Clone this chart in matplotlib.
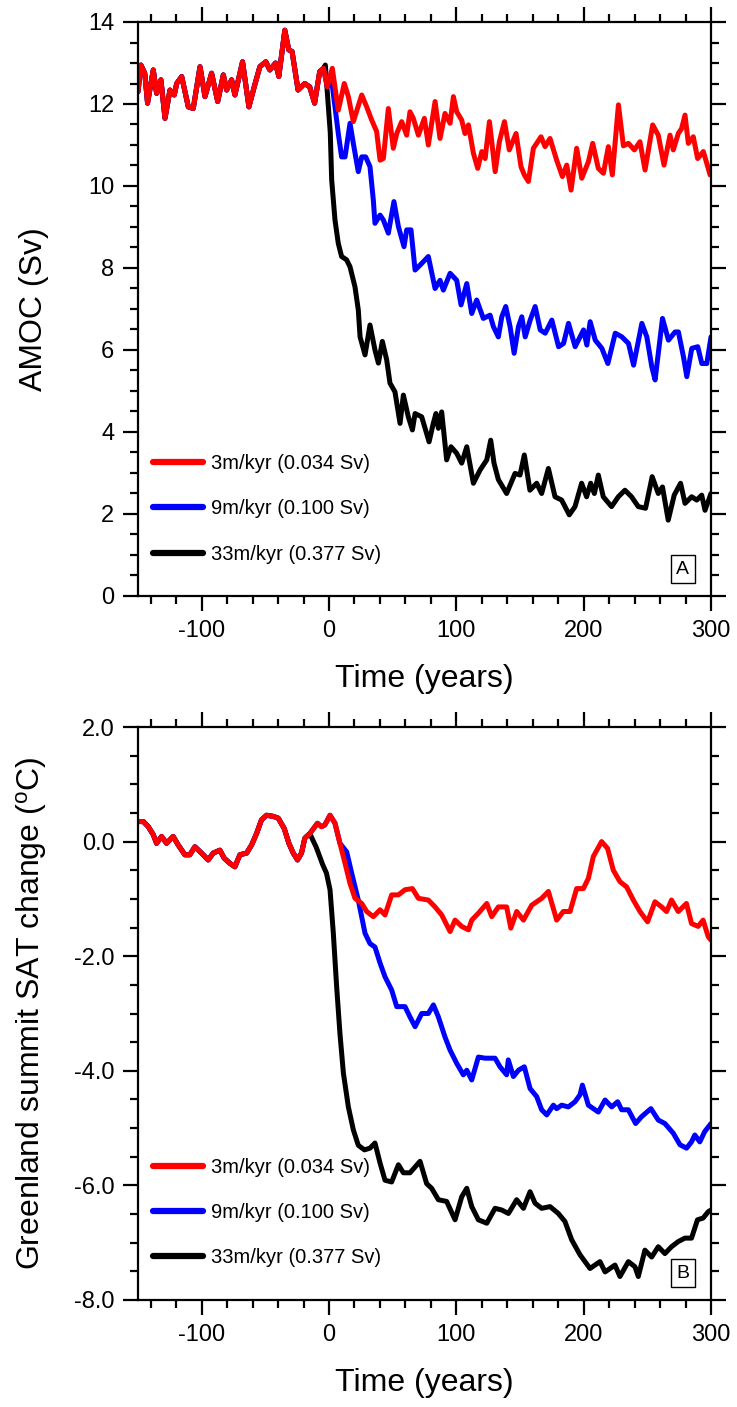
import numpy as np
import matplotlib
matplotlib.use("Agg")
import matplotlib.pyplot as plt
from matplotlib.ticker import MultipleLocator, FormatStrFormatter

plt.rcParams['font.family'] = ['Liberation Sans', 'DejaVu Sans']
plt.rcParams['axes.unicode_minus'] = False

# ---------------- Panel A: AMOC (Sv) ----------------
# shared spin-up segment (all three runs identical before t=0)
time_pre_a = [-150, -147.7, -144.7, -142.5, -138, -135.4, -132, -128.8, -124.9, -121.5,
              -119.6, -115.7, -110.5, -106.6, -101.3, -97.4, -92.2, -87.4, -83, -80.4,
              -76.5, -73.9, -67.9, -62.9, -58.7, -54.3, -49.6, -46.5, -42, -39.4,
              -34.7, -31.6, -29, -24.3, -19.1, -15.2, -11.3, -7.3, -4.3]
amoc_pre = [12.3, 12.95, 12.75, 12.02, 12.83, 12.26, 12.59, 11.65, 12.34, 12.22,
            12.5, 12.67, 11.93, 11.89, 12.91, 12.18, 12.75, 12.06, 12.71, 12.34,
            12.59, 12.22, 13.03, 11.93, 12.42, 12.91, 13.03, 12.83, 13.0, 12.67,
            13.8, 13.32, 13.28, 12.34, 12.5, 12.42, 12.02, 12.79, 12.87]

time_red_a = [-1.4, 2.6, 7.3, 12, 15.2, 19.1, 25.7, 29.6, 33.5, 37.4, 40.1, 42.7, 46.6, 50.5,
              53.2, 57.1, 61, 63.6, 66.2, 70.2, 74.9, 78, 83.3, 87.2, 91.1, 95.1, 97.7,
              100.3, 104.2, 106.8, 109.5, 113.4, 116.8, 120, 122.6, 126, 130.5, 133.8,
              137.8, 141.6, 146.9, 150.8, 153.4, 156.6, 160.5, 166.5, 169.7, 173.6, 178.8,
              183.3, 186.7, 190.1, 194.5, 198.5, 203.7, 207.1, 211.5, 215.5, 219.4, 222.5,
              227.3, 231.2, 235.1, 239.8, 244.2, 248.2, 254.2, 258.6, 263.1, 267.8, 270.4,
              274.3, 276.9, 279.6, 282.2, 286.1, 289.5, 294, 299.3, 300]
amoc_red = [12.42, 12.87, 11.85, 12.5, 12.18, 11.57, 12.22, 11.93, 11.61, 11.33, 10.63, 10.67,
            11.89, 10.92, 11.28, 11.57, 11.24, 11.81, 11.65, 11.24, 11.65, 11.0, 12.06, 11.16,
            11.77, 11.53, 12.18, 11.81, 11.61, 11.28, 11.49, 10.8, 10.43, 10.84, 10.67, 11.57,
            10.35, 11.08, 11.57, 10.88, 11.28, 10.47, 10.27, 10.11, 10.92, 11.2, 10.96, 11.16,
            10.63, 10.23, 10.51, 9.9, 10.92, 10.19, 10.59, 11.04, 10.43, 10.31, 10.96, 10.27,
            11.98, 10.98, 11.04, 10.88, 11.08, 10.39, 11.49, 11.24, 10.51, 11.24, 10.88,
            11.28, 11.4, 11.73, 11.04, 11.2, 10.67, 10.84, 10.27, 10.3]

time_blue_a = [-1.4, 2.0, 4.7, 7.3, 9.9, 12.6, 16.5, 19.1, 23, 25.7, 28.8, 32.2, 34.8, 36.1,
               40.1, 42.7, 46.6, 51, 54.5, 58.9, 61, 64.4, 67.6, 71.5, 78, 83.3, 87.2, 89.8,
               95.1, 100.3, 103.7, 108.2, 112.1, 116, 121.2, 126.5, 129.1, 133, 135.7, 138.8,
               142.2, 145.4, 148.8, 151.4, 154.1, 158, 161.9, 165.9, 169.8, 175, 180.3, 184.2,
               188.1, 193.3, 199.9, 202.5, 205.1, 209.1, 214.3, 219, 224.8, 230, 235.2, 239.2,
               245.7, 249.6, 253.5, 256.1, 261.9, 266.6, 271.8, 274.4, 278.4, 281, 284.9,
               289.6, 292.8, 296.7, 300]
amoc_blue = [12.42, 12.6, 11.93, 11.28, 10.71, 10.71, 11.53, 11.04, 10.35, 10.71, 10.71, 10.47,
             9.66, 9.09, 9.29, 9.17, 8.85, 9.62, 9.01, 8.52, 8.93, 8.93, 7.95, 8.07, 8.28, 7.5,
             7.7, 7.46, 7.87, 7.7, 7.1, 7.62, 6.89, 7.22, 6.77, 6.85, 6.57, 6.32, 6.81, 7.06,
             6.57, 5.92, 6.57, 6.81, 6.32, 6.73, 7.06, 6.49, 6.41, 6.73, 6.08, 6.16, 6.65,
             6.08, 6.49, 6.12, 6.69, 6.24, 6.04, 5.67, 6.41, 6.32, 6.16, 5.63, 6.65, 6.32,
             5.59, 5.27, 6.77, 6.24, 6.44, 6.44, 5.83, 5.35, 6.04, 6.08, 5.67, 5.67, 6.32]

time_black_a = [-2.9, 1, 2.1, 4.7, 7.3, 9.9, 13.8, 16.5, 20.4, 23, 24.4, 28.3, 32.2, 36.1,
                38.8, 41.9, 45.3, 47.9, 51.8, 55.8, 58.4, 62.3, 65.5, 67.6, 72.8, 78.6, 81.9,
                84, 85.9, 88.5, 92.4, 95.8, 100.3, 104.2, 108.2, 113.4, 118.6, 123.9, 127,
                129.6, 133, 139.5, 146.1, 150, 153.4, 157.8, 163.1, 167, 172.3, 177.5, 182.7,
                188.7, 193.2, 198.4, 202.3, 205.5, 208.4, 211.5, 215.4, 221.9, 227.2, 232.4,
                237.6, 242.9, 248.6, 253.8, 258.6, 261.9, 266.4, 271.1, 276.1, 279.6, 284.8,
                288.8, 292.7, 295.3, 300]
amoc_black = [12.95, 11.3, 10.15, 9.17, 8.6, 8.28, 8.2, 8.03, 7.54, 6.98, 6.32, 5.88, 6.61,
              6.0, 5.68, 6.21, 5.76, 5.19, 4.98, 4.21, 4.9, 4.37, 4.05, 4.45, 4.37, 3.76, 4.21,
              4.45, 4.09, 4.49, 3.32, 3.64, 3.48, 3.24, 3.64, 2.75, 3.07, 3.32, 3.8, 3.24,
              2.84, 2.5, 2.99, 2.95, 3.44, 2.58, 2.75, 2.5, 3.11, 2.42, 2.34, 1.98, 2.18, 2.75,
              2.42, 2.75, 2.5, 2.95, 2.42, 2.18, 2.42, 2.58, 2.42, 2.18, 2.14, 2.91, 2.5, 2.66,
              1.85, 2.46, 2.75, 2.26, 2.42, 2.34, 2.46, 2.09, 2.5]

# ---------------- Panel B: Greenland summit SAT change ----------------
time_pre_b = [-150, -145.8, -141.9, -138, -135.4, -131.5, -127.6, -122.4, -118.4, -113.2,
              -109.3, -105.3, -100.1, -94.9, -90.9, -85.7, -82.3, -77.8, -73.9, -70,
              -64.7, -60.8, -56.9, -53, -49, -43.8, -39.9, -35.2, -31.5, -28.1, -24.7,
              -21.6, -19, -15.1]
sat_pre = [0.35, 0.35, 0.26, 0.12, -0.03, 0.09, -0.03, 0.09, -0.06, -0.23,
           -0.23, -0.09, -0.2, -0.32, -0.2, -0.15, -0.29, -0.38, -0.44, -0.23,
           -0.2, -0.06, 0.14, 0.38, 0.46, 0.44, 0.41, 0.23, -0.03, -0.2, -0.32,
           -0.2, 0.06, 0.14]

time_red_b = [-9.1, -5.9, -3.3, 0.8, 4.7, 8.6, 12.6, 16.5, 20.4, 25.7, 29.6, 34.8, 40.1, 44,
              49.2, 54.5, 59.7, 65.5, 70.2, 78, 83.3, 88.5, 95.1, 99, 104.2, 109.5, 112.1,
              117.3, 123.9, 127.8, 133, 139.5, 142.8, 147.4, 152.7, 159.2, 167, 172.3, 178.8,
              184, 189.3, 194.5, 199.8, 203.7, 207.6, 214.1, 218.8, 223.3, 228.5, 233.7, 239,
              244.2, 250.2, 256, 261.2, 265.1, 269, 274.3, 280.7, 284.7, 289.9, 293.8, 297.8,
              300]
sat_red = [0.32, 0.26, 0.29, 0.46, 0.32, -0.03, -0.38, -0.73, -0.99, -1.08, -1.22, -1.31,
           -1.19, -1.28, -0.93, -0.93, -0.84, -0.82, -0.99, -1.02, -1.14, -1.28, -1.57, -1.37,
           -1.48, -1.54, -1.37, -1.25, -1.08, -1.31, -1.14, -1.14, -1.51, -1.22, -1.37, -1.11,
           -0.99, -0.87, -1.37, -1.22, -1.22, -0.82, -0.82, -0.64, -0.26, 0.0, -0.12, -0.5,
           -0.7, -0.79, -1.02, -1.22, -1.4, -1.05, -1.14, -1.22, -1.02, -1.22, -1.08, -1.43,
           -1.48, -1.37, -1.66, -1.72]

time_blue_b = [-9.1, -5.9, -3.3, 0.8, 4.7, 8.6, 13.9, 17.8, 23, 28.3, 32.2, 36.1, 40.1, 44,
               49.2, 53.2, 59.7, 63.6, 67.6, 72.8, 78, 82, 85.9, 91.1, 95.1, 100.3, 105.5,
               108.2, 112.1, 117.3, 122.6, 130.4, 134.3, 139.5, 140.8, 144.8, 148.8, 153.4,
               157.9, 163.1, 167, 171, 176.2, 178.8, 182.7, 188, 193.2, 197.1, 199, 203.7,
               211.5, 216.8, 222, 226.7, 229.8, 235.1, 240.8, 245.5, 252.8, 258.6, 263.8,
               270.4, 275.6, 280.8, 284.7, 287.3, 291.2, 295.1, 300]
sat_blue = [0.32, 0.26, 0.29, 0.46, 0.32, -0.03, -0.18, -0.55, -1.02, -1.6, -1.78, -1.84,
            -2.12, -2.36, -2.59, -2.88, -2.88, -3.06, -3.23, -3.0, -3.0, -2.85, -3.06, -3.41,
            -3.64, -3.87, -4.07, -3.99, -4.16, -3.76, -3.78, -3.78, -3.93, -4.07, -3.81, -4.1,
            -3.99, -3.93, -4.31, -4.45, -4.68, -4.77, -4.6, -4.66, -4.6, -4.63, -4.54, -4.42,
            -4.25, -4.6, -4.72, -4.51, -4.63, -4.54, -4.68, -4.68, -4.92, -4.8, -4.66, -4.86,
            -4.92, -5.09, -5.29, -5.35, -5.24, -5.12, -5.24, -5.06, -4.92]

time_black_b = [-10, -5, -2, 0.8, 3.4, 6, 8.6, 11.3, 15.2, 19.1, 23, 27.8, 32.2, 36.1, 40.1,
                44, 49.2, 54.5, 58.4, 63.6, 71.5, 76.7, 80.6, 85.9, 92.4, 99, 104.2, 108.2,
                112.1, 117.3, 123.9, 130.4, 135.7, 140.9, 147.4, 152.7, 157.9, 161.8, 167,
                173.6, 180.1, 185.3, 190.6, 197.1, 205, 212.8, 216.8, 224.6, 228.5, 235.1,
                240.3, 242.9, 248.1, 253.4, 258.6, 263.8, 269, 274.3, 279.5, 284.7, 289.4,
                293.8, 297.8, 300]
sat_black = [-0.1, -0.4, -0.55, -0.84, -1.6, -2.53, -3.35, -4.04, -4.63, -5.03, -5.3, -5.38,
             -5.35, -5.26, -5.61, -5.91, -5.94, -5.64, -5.78, -5.78, -5.58, -5.97, -6.05,
             -6.25, -6.28, -6.6, -6.2, -6.05, -6.37, -6.6, -6.66, -6.4, -6.43, -6.49, -6.25,
             -6.4, -6.11, -6.31, -6.4, -6.37, -6.49, -6.63, -6.95, -7.21, -7.45, -7.33, -7.51,
             -7.39, -7.59, -7.33, -7.42, -7.59, -7.13, -7.25, -7.07, -7.19, -7.07, -6.98,
             -6.92, -6.92, -6.6, -6.57, -6.46, -6.43]

labels = ['3m/kyr (0.034 Sv)', '9m/kyr (0.100 Sv)', '33m/kyr (0.377 Sv)']
colors = ['#ff0000', '#0000ff', '#000000']

fig = plt.figure(figsize=(7.37, 14.07), dpi=100)
axA = fig.add_axes([138/737, 1-596/1407, 573/737, 574/1407])
axB = fig.add_axes([138/737, 1-1300/1407, 573/737, 573/1407])

LW = 3.6


def series(tpre, vpre, t, v):
    return np.concatenate([tpre, t]), np.concatenate([vpre, v])


def draw(ax, tpre, vpre, data):
    lines = []
    for (t, v), c in reversed(list(zip(data, colors))):
        tt, vv = series(tpre, vpre, t, v)
        ln, = ax.plot(tt, vv, color=c, lw=LW, solid_joinstyle='round',
                      solid_capstyle='round')
        lines.append(ln)
    return lines[::-1]


linesA = draw(axA, time_pre_a, amoc_pre,
              [(time_red_a, amoc_red), (time_blue_a, amoc_blue), (time_black_a, amoc_black)])
linesB = draw(axB, time_pre_b, sat_pre,
              [(time_red_b, sat_red), (time_blue_b, sat_blue), (time_black_b, sat_black)])

for ax, lines, tag, ytop in [(axA, linesA, 'A', 0.247), (axB, linesB, 'B', 0.248)]:
    ax.set_xlim(-150, 300)
    ax.xaxis.set_major_locator(MultipleLocator(100))
    ax.xaxis.set_minor_locator(MultipleLocator(20))
    ax.yaxis.set_minor_locator(MultipleLocator(0.5))
    ax.tick_params(which='both', direction='out', top=True, right=True, width=1.6,
                   labelsize=17)
    ax.tick_params(which='major', length=11)
    ax.tick_params(which='minor', length=5.5)
    ax.tick_params(axis='x', pad=6)
    ax.tick_params(axis='y', pad=6)
    for s in ax.spines.values():
        s.set_linewidth(1.6)
    ax.set_xlabel('Time (years)', fontsize=23)
    ax.xaxis.set_label_coords(0.5, -0.118)
    leg = ax.legend(lines, labels, loc='upper left', bbox_to_anchor=(0.026, ytop),
                    frameon=False, fontsize=14.5, handlelength=2.5, handletextpad=0.4,
                    labelspacing=1.3, borderpad=0, borderaxespad=0)
    for h in leg.legend_handles:
        h.set_linewidth(4.5)
        h.set_solid_capstyle('round')
    ax.text(0.951, 0.047, tag, transform=ax.transAxes, ha='center', va='center',
            fontsize=14, bbox=dict(boxstyle='square,pad=0.3', fc='white', ec='black',
                                   lw=1.0))

axA.set_ylim(0, 14)
axA.yaxis.set_major_locator(MultipleLocator(2))
axA.set_ylabel('AMOC (Sv)', fontsize=23)
axA.yaxis.set_label_coords(-0.155, 0.5)

axB.set_ylim(-8, 2)
axB.yaxis.set_major_locator(MultipleLocator(2))
axB.yaxis.set_major_formatter(FormatStrFormatter('%.1f'))
axB.set_ylabel(r'Greenland summit SAT change ($\mathregular{^{o}}$C)', fontsize=23)
axB.yaxis.set_label_coords(-0.155, 0.5)

fig.savefig('out.png', dpi=100)
